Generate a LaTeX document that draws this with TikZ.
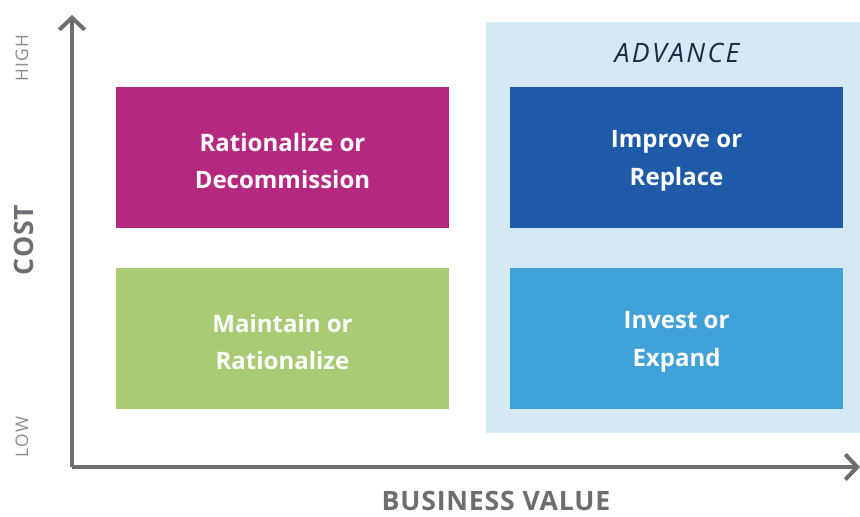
\documentclass[tikz,border=0pt]{standalone}
\usepackage{fontspec}
\setmainfont{Open Sans}
\usetikzlibrary{arrows.meta}

\definecolor{axisgray}{HTML}{6D6E71}
\definecolor{labelgray}{HTML}{8A8B8E}
\definecolor{panelblue}{HTML}{D4E8F5}
\definecolor{navytext}{HTML}{1B2A44}
\definecolor{magentabox}{HTML}{B5287F}
\definecolor{darkbluebox}{HTML}{1E5AA8}
\definecolor{greenbox}{HTML}{A8CB74}
\definecolor{lightbluebox}{HTML}{40A0D8}

\begin{document}
\begin{tikzpicture}[x=0.75pt, y=-0.75pt,
	quad/.style = {minimum width=333*0.75pt, minimum height=141*0.75pt, inner sep=0pt},
	quadtext/.style = {text=white, font=\fontsize{18}{28}\selectfont\bfseries, align=center, yshift=-2.5pt},
	axis/.style = {draw=axisgray, line width=3.2pt, -{Straight Barb[length=9pt, width=19pt, line width=3pt]}},
	level/.style = {text=labelgray, font=\fontsize{13}{15}\selectfont\addfontfeature{LetterSpace=8}, rotate=90},
	axistitle/.style = {text=axisgray, font=\fontsize{20}{22}\selectfont\bfseries\addfontfeature{LetterSpace=3}}
	]
	\useasboundingbox (0,0) rectangle (860,517);

	% highlighted column
	\fill [panelblue] (486,22) rectangle (860,433);
	\node (advance) at (677,53) {\fontsize{20}{24}\selectfont\itshape\addfontfeature{LetterSpace=9}\color{navytext}ADVANCE};

	% the four quadrants
	\node [quad, fill = magentabox, label={[quadtext]center:Rationalize or\\Decommission}] (rationalize) at (282.5,157.5) {};
	\node [quad, fill = darkbluebox, label={[quadtext]center:Improve or\\Replace}] (improve) at (676.5,157.5) {};
	\node [quad, fill = greenbox, label={[quadtext]center:Maintain or\\Rationalize}] (maintain) at (282.5,338.5) {};
	\node [quad, fill = lightbluebox, label={[quadtext]center:Invest or\\Expand}] (invest) at (676.5,338.5) {};

	% axes
	\coordinate (origin) at (72,467);
	\coordinate (ytop) at (72,15);
	\coordinate (xend) at (860,467);
	\draw [axis] (origin) -- (ytop);
	\draw [axis] (origin) -- (xend);

	% axis labels
	\node [level] (high) at (22,58) {HIGH};
	\node [level] (low) at (22,437) {LOW};
	\node [axistitle, rotate=90, anchor=base] (cost) at (33,240) {COST};
	\node [axistitle, anchor=base, text depth=0pt, inner sep=1pt] (value) at (496,510) {BUSINESS VALUE};
\end{tikzpicture}
\end{document}
